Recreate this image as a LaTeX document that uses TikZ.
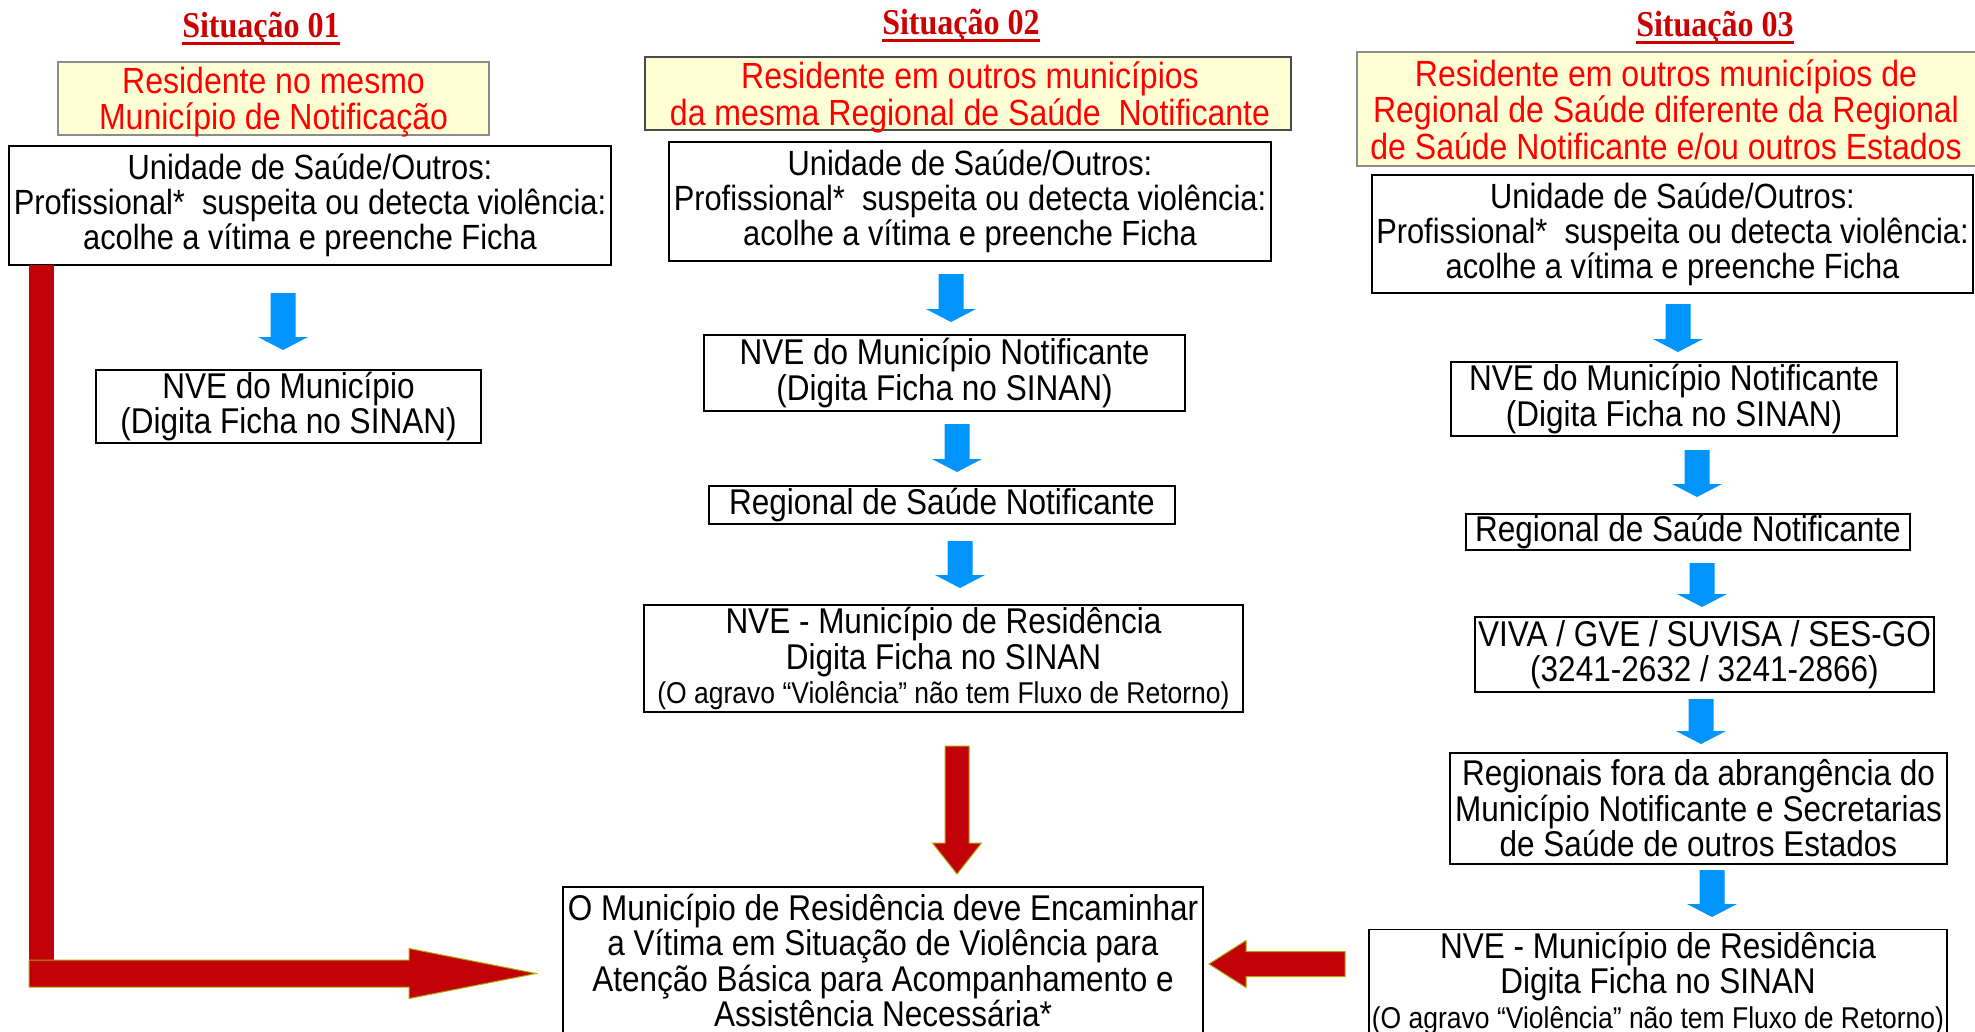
\documentclass[tikz,border=0pt]{standalone}
\usepackage{fontspec}
\setmainfont{Liberation Sans}[FakeStretch=0.88]
\newfontfamily\titlefont{Liberation Serif}[FakeStretch=0.88]
\usetikzlibrary{calc}
\definecolor{arrowred}{RGB}{194,0,8}
\definecolor{arrowedge}{RGB}{175,165,0}
\definecolor{txtred}{RGB}{255,0,0}
\definecolor{ttlred}{RGB}{205,0,0}
\definecolor{arrowblue}{RGB}{0,148,255}
\definecolor{paleyellow}{RGB}{255,255,214}
% block arrow: #1 style, #2 start, #3 tip, #4 shaft half width, #5 head half width, #6 head length
\newcommand{\blockarrow}[6]{%
  \coordinate (bkB) at ($(#3)!#6pt!(#2)$);
  \path[#1] ($(#2)!#4pt!90:(#3)$) -- ($(bkB)!#4pt!90:(#3)$) -- ($(bkB)!#5pt!90:(#3)$) -- (#3)
    -- ($(bkB)!#5pt!-90:(#3)$) -- ($(bkB)!#4pt!-90:(#3)$) -- ($(#2)!#4pt!-90:(#3)$) -- cycle;
}
\newcommand{\smalltxt}{\fontsize{30.1}{30}\selectfont}
\begin{document}
\begin{tikzpicture}[x=1pt,y=-1pt,
  ttl/.style={font=\titlefont\bfseries\fontsize{36.4}{36}\selectfont, text=ttlred, inner sep=0pt},
  yframe/.style={draw=black!45, line width=1.2pt, fill=paleyellow, inner sep=0pt},
  ytext/.style={text=txtred, align=center, inner sep=0pt, font=\fontsize{36.4}{36.5}\selectfont},
  box/.style={draw=black, line width=1.3pt, fill=white, align=center, inner sep=0pt,
    font=\fontsize{35.8}{35.5}\selectfont},
  ubox/.style={box, font=\fontsize{35}{35}\selectfont},
  bluearrow/.style={fill=arrowblue},
  redarrow/.style={fill=arrowred, draw=arrowedge, line width=1pt},
]
\useasboundingbox (0,0) rectangle (1975,1031);
\fill[white] (0,0) rectangle (1975,1031);

% ---------- titles ----------
\node[ttl, anchor=base] (t1) at (261,37) {Situação 01};
\node[ttl, anchor=base] (t2) at (961,34) {Situação 02};
\node[ttl, anchor=base] (t3) at (1715,36) {Situação 03};
\foreach \t in {t1,t2,t3}{
  \draw[ttlred, line width=3pt] ($(\t.base west)+(0,6.5)$) -- ($(\t.base east)+(0,6.5)$);
}

% ---------- yellow headers ----------
\node[yframe, minimum width=431pt, minimum height=73pt] (y1f) at (273.5,98.5) {};
\node[ytext] (y1) at (273.5,102) {Residente no mesmo\\Município de Notificação};
\node[yframe, draw=black!70, minimum width=646pt, minimum height=73pt] (y2f) at (968,93.5) {};
\node[ytext] (y2) at (970,97.5) {Residente em outros municípios\\da mesma Regional de Saúde~ Notificante};
\node[yframe, minimum width=625pt, minimum height=114pt] (y3f) at (1669.5,109) {};
\node[ytext] (y3) at (1666,109.5)
  {Residente em outros municípios de\\Regional de Saúde diferente da Regional\\de Saúde Notificante e/ou outros Estados};

% ---------- unidade boxes ----------
\node[ubox, minimum width=602pt, minimum height=119pt] (u1) at (310,205.5)
  {Unidade de Saúde/Outros:\\Profissional*~ suspeita ou detecta violência:\\acolhe a vítima e preenche Ficha};
\node[ubox, minimum width=602pt, minimum height=119pt] (u2) at (970,201.5)
  {Unidade de Saúde/Outros:\\Profissional*~ suspeita ou detecta violência:\\acolhe a vítima e preenche Ficha};
\node[ubox, minimum width=601pt, minimum height=118pt] (u3) at (1672.5,234)
  {Unidade de Saúde/Outros:\\Profissional*~ suspeita ou detecta violência:\\acolhe a vítima e preenche Ficha};

% ---------- column 1 ----------
\node[box, minimum width=385pt, minimum height=73pt] (n1) at (288.5,406.5)
  {NVE do Município\\(Digita Ficha no SINAN)};

% ---------- column 2 ----------
\node[box, minimum width=481pt, minimum height=76pt] (n2) at (944.5,373)
  {NVE do Município Notificante\\(Digita Ficha no SINAN)};
\node[box, minimum width=466pt, minimum height=38pt] (r2) at (942,505)
  {Regional de Saúde Notificante};
\node[box, minimum width=599pt, minimum height=107pt] (res2) at (943.5,658.5)
  {NVE - Município de Residência\\Digita Ficha no SINAN\\[-1pt]{\smalltxt (O agravo “Violência” não tem Fluxo de Retorno)}};
\node[box, minimum width=640pt, minimum height=147pt] (fin) at (883,960.5)
  {O Município de Residência deve Encaminhar\\a Vítima em Situação de Violência para\\Atenção Básica para Acompanhamento e\\Assistência Necessária*};

% ---------- column 3 ----------
\node[box, minimum width=446pt, minimum height=74pt] (n3) at (1674,399)
  {NVE do Município Notificante\\(Digita Ficha no SINAN)};
\node[box, minimum width=444pt, minimum height=36pt] (r3) at (1688,532)
  {Regional de Saúde Notificante};
\node[box, minimum width=459pt, minimum height=75pt] (viva) at (1704.5,654.5)
  {VIVA / GVE / SUVISA / SES-GO\\(3241-2632 / 3241-2866)};
\node[box, minimum width=497pt, minimum height=111pt] (fora) at (1698.5,808.5)
  {Regionais fora da abrangência do\\Município Notificante e Secretarias\\de Saúde de outros Estados};
\node[box, minimum width=578pt, minimum height=107pt] (res3) at (1658,983)
  {NVE - Município de Residência\\Digita Ficha no SINAN\\[-1pt]{\smalltxt (O agravo “Violência” não tem Fluxo de Retorno)}};

% ---------- blue arrow end points ----------
\coordinate (a1s) at (283,293);  \coordinate (a1e) at (283,350);
\coordinate (b1s) at (951,274);  \coordinate (b1e) at (951,322);
\coordinate (b2s) at (957,424);  \coordinate (b2e) at (957,472);
\coordinate (b3s) at (960,541);  \coordinate (b3e) at (960,588);
\coordinate (c1s) at (1678,304); \coordinate (c1e) at (1678,352);
\coordinate (c2s) at (1697,450); \coordinate (c2e) at (1697,497);
\coordinate (c3s) at (1702,563); \coordinate (c3e) at (1702,607);
\coordinate (c4s) at (1701,699); \coordinate (c4e) at (1701,744);
\coordinate (c5s) at (1712,870); \coordinate (c5e) at (1712,917);

\foreach \a in {a1,b1,b2,b3,c1,c2,c3,c4,c5}{
  \blockarrow{bluearrow}{\a s}{\a e}{12.5}{25}{13}
}

% ---------- red arrows ----------
% down arrow (column 2 -> final box)
\coordinate (dS) at (957,746); \coordinate (dE) at (957,874);
\blockarrow{redarrow}{dS}{dE}{12}{24.5}{31}
% left arrow (column 3 -> final box)
\coordinate (lS) at (1345,964); \coordinate (lE) at (1209,964);
\blockarrow{redarrow}{lS}{lE}{12.5}{23.5}{37}
% L-shaped arrow (column 1 -> final box)
\coordinate (vTop) at (29,265); \coordinate (vBot) at (54,975);
\fill[arrowred] (vTop) rectangle (vBot);
\coordinate (hS) at (29,973.5); \coordinate (hE) at (536,973.5);
\blockarrow{redarrow}{hS}{hE}{13.5}{25}{127}
\end{tikzpicture}
\end{document}
